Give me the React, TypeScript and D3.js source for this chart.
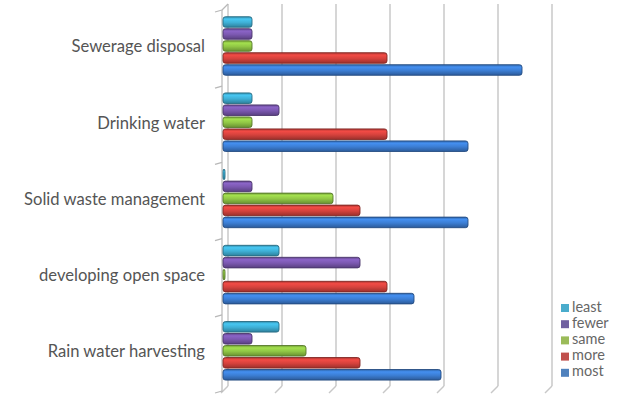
import React from "react";
import * as d3 from "d3";

const categories = [
  "Sewerage disposal",
  "Drinking water",
  "Solid waste management",
  "developing open space",
  "Rain water harvesting",
];
const seriesNames = ["least", "fewer", "same", "more", "most"];
const least = [1, 1, 0, 2, 2];
const fewer = [1, 2, 1, 5, 1];
const same = [1, 1, 4, 0, 3];
const more = [6, 6, 5, 6, 5];
const most = [11, 9, 9, 7, 8];
const gridTicks = [0, 2, 4, 6, 8, 10, 12];

const seriesValues = [least, fewer, same, more, most];
const colors = ["#3fb0d6", "#7b58b0", "#90c645", "#d6423d", "#3c7ed4"];
const legendColors = ["#4aaccc", "#7060a0", "#9bbb59", "#c0504d", "#4f81bd"];

const W = 620;
const H = 394;
const DX = 5; // depth shift of the back wall
const DY = 6;

export default function App() {
  const x = d3.scaleLinear().domain([0, 12]).range([223, 547]);
  const y = d3.scaleBand<string>().domain(categories).range([10, 391]);
  const inner = d3
    .scaleBand<string>()
    .domain(seriesNames)
    .range([6, 66])
    .paddingInner(0.12)
    .paddingOuter(0.06);

  const floorY = 392;
  const topY = 10;
  const gridStroke = "#c8c8c8";

  return (
    <svg
      width={W}
      height={H}
      style={{ position: "absolute", left: 0, top: 0, background: "#fff" }}
      fontFamily="Lato, 'Open Sans', sans-serif"
    >
      <defs>
        {colors.map((c, i) => {
          const base = d3.color(c)!;
          return (
            <linearGradient key={i} id={`g${i}`} x1="0" y1="0" x2="0" y2="1">
              <stop offset="0%" stopColor={base.darker(0.6).formatHex()} />
              <stop offset="22%" stopColor={base.brighter(0.35).formatHex()} />
              <stop offset="55%" stopColor={c} />
              <stop offset="100%" stopColor={base.darker(0.9).formatHex()} />
            </linearGradient>
          );
        })}
      </defs>

      {/* back wall gridlines and floor lines */}
      {gridTicks.map((t) => {
        const xb = x(t) + DX;
        return (
          <g key={t} stroke={gridStroke} strokeWidth={1.5} fill="none">
            <line x1={xb} y1={topY - DY} x2={xb} y2={floorY - DY} />
            <line x1={xb} y1={floorY - DY} x2={xb - DX - 2} y2={floorY + 1} />
          </g>
        );
      })}

      {/* left wall */}
      <g stroke="#b8b8b8" strokeWidth={1.2} fill="none">
        <line x1={x(0) - 1} y1={topY} x2={x(0) - 1} y2={floorY} />
        <line x1={x(0) - 1} y1={topY} x2={x(0) + DX} y2={topY - DY} />
        {categories.map((c) => (
          <line key={c} x1={x(0) - 8} y1={y(c)! + 2} x2={x(0) - 1} y2={y(c)!} />
        ))}
        <line x1={x(0) - 8} y1={391 + 2} x2={x(0) - 1} y2={391} />
      </g>

      {/* bars */}
      {categories.map((c, ci) => (
        <g key={c} transform={`translate(0,${y(c)})`}>
          {seriesNames.map((s, si) => {
            const v = seriesValues[si][ci];
            const x0 = x(0);
            const w = Math.max(x(v) - x0 + 2, 2);
            const base = d3.color(colors[si])!;
            return (
              <rect
                key={s}
                x={x0}
                y={inner(s)}
                width={w}
                height={inner.bandwidth()}
                rx={2.5}
                fill={`url(#g${si})`}
                stroke={base.darker(1.4).formatHex()}
                strokeWidth={0.9}
              />
            );
          })}
        </g>
      ))}

      {/* category labels */}
      {categories.map((c) => (
        <text
          key={c}
          x={205}
          y={y(c)! + y.bandwidth() / 2}
          textAnchor="end"
          dominantBaseline="middle"
          fontSize={16.6}
          fill="#555"
        >
          {c}
        </text>
      ))}

      {/* legend */}
      {seriesNames.map((s, i) => (
        <g key={s} transform={`translate(561,${308 + i * 16.2})`}>
          <rect x={0} y={-4} width={8} height={8} fill={legendColors[i]} />
          <text x={11} y={0} dominantBaseline="middle" fontSize={14.5} fill="#666">
            {s}
          </text>
        </g>
      ))}
    </svg>
  );
}
